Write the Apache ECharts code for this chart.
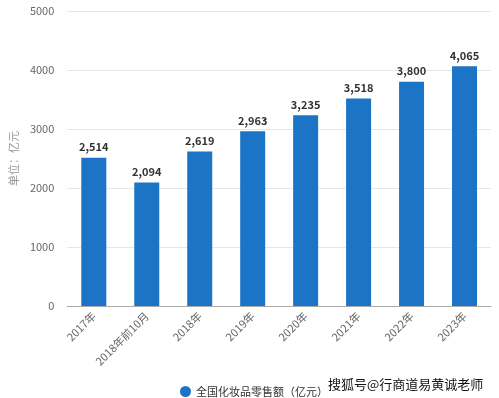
<!DOCTYPE html>
<html><head><meta charset="utf-8">
<script src="https://cdn.jsdelivr.net/npm/echarts@6/dist/echarts.min.js"></script>
<style>html,body{margin:0;padding:0;background:#fff}#c{width:499px;height:398px}</style>
</head><body><div id="c"></div>
<script>
const categories = ['2017年','2018年前10月','2018年','2019年','2020年','2021年','2022年','2023年'];
const values = [2514, 2094, 2619, 2963, 3235, 3518, 3800, 4065];
const seriesName = '全国化妆品零售额（亿元）';
const yTicks = { min: 0, max: 5000, interval: 1000 };
const font = '"Noto Sans CJK SC", "Noto Sans", sans-serif';
const chart = echarts.init(document.getElementById('c'));
chart.setOption({
  animation: false,
  textStyle: { fontFamily: font },
  grid: { left: 58.5, right: 8, top: 11, bottom: 92, containLabel: false },
  legend: {
    data: [seriesName], left: 175, top: 381, icon: 'circle',
    itemWidth: 11, itemHeight: 11, itemGap: 4,
    textStyle: { fontSize: 11, color: '#333', fontFamily: font }
  },
  xAxis: {
    type: 'category', data: categories,
    axisLine: { lineStyle: { color: '#aaa' } },
    axisTick: { alignWithLabel: true, length: 4, lineStyle: { color: '#aaa' } },
    axisLabel: { rotate: 45, fontSize: 11, color: '#666', margin: 8, interval: 0 }
  },
  yAxis: {
    type: 'value', min: yTicks.min, max: yTicks.max, interval: yTicks.interval,
    name: '单位：亿元', nameLocation: 'middle', nameRotate: 90, nameGap: 46,
    nameTextStyle: { fontSize: 11, color: '#999' },
    axisLine: { show: false }, axisTick: { show: false },
    axisLabel: { fontSize: 11, color: '#666', margin: 13, formatter: v => String(v) },
    splitLine: { lineStyle: { color: '#e6e6e6' } }
  },
  series: [{
    name: seriesName, type: 'bar', data: values, barWidth: 25,
    itemStyle: { color: '#1b74c5' },
    label: {
      show: true, position: 'top', distance: 5, fontSize: 11, fontWeight: 'bold', color: '#333',
      formatter: p => p.value.toLocaleString('en-US')
    }
  }],
  graphic: [{
    type: 'text', left: 328, top: 378,
    style: { text: '搜狐号@行商道易黄诚老师', fontSize: 13, fill: '#111', fontFamily: font }
  }]
});
</script></body></html>
